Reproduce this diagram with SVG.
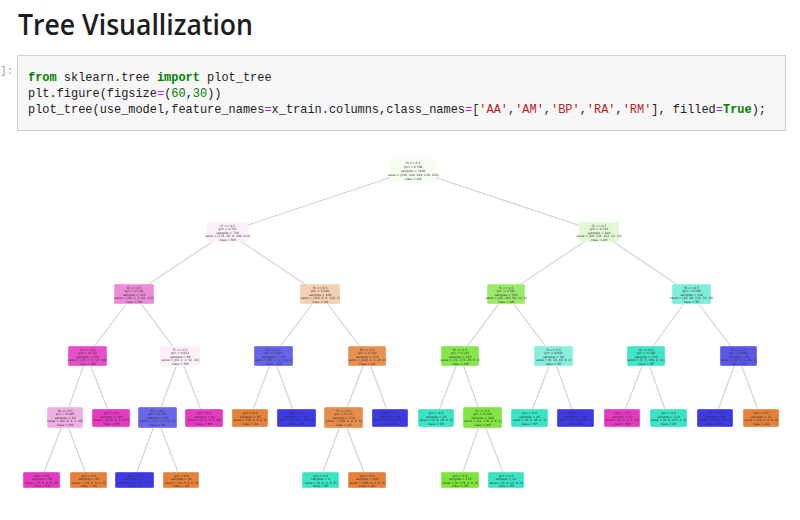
<svg xmlns="http://www.w3.org/2000/svg" width="800" height="520" viewBox="0 0 800 520">
<style>
.title{font-family:"Open Sans","Liberation Sans",sans-serif;font-weight:600;font-size:29px;fill:#1d1d1d}
.code{font-family:"Liberation Mono","DejaVu Sans Mono",monospace;font-size:11.95px;fill:#222}
.k{fill:#008000;font-weight:bold}
.o{fill:#aa22ff}
.n{fill:#008000}
.s{fill:#ba2121}
.prompt{font-family:"Liberation Mono",monospace;font-size:11px;fill:#9a9a9a}
.e{stroke:#d2d2d2;stroke-width:1.1;fill:none}
.nd rect{stroke:#ffffff;stroke-opacity:0.45;stroke-width:0.8}
.nd text{font-family:"DejaVu Sans","Liberation Sans",sans-serif;font-size:3px;fill:#333;text-anchor:middle}
</style>
<rect width="800" height="520" fill="#ffffff"/>
<text class="title" x="18" y="35" textLength="235" lengthAdjust="spacingAndGlyphs">Tree Visuallization</text>
<text class="prompt" x="0" y="74">]:</text>
<rect x="17.5" y="55.5" width="768" height="75" fill="#f7f7f7" stroke="#cfcfcf" stroke-width="1"/>
<text class="code" x="28" y="81"><tspan class="k">from</tspan> sklearn.tree <tspan class="k">import</tspan> plot_tree</text>
<text class="code" x="28" y="97">plt.figure(figsize<tspan class="o">=</tspan>(<tspan class="n">60</tspan>,<tspan class="n">30</tspan>))</text>
<text class="code" x="28" y="113">plot_tree(use_model,feature_names<tspan class="o">=</tspan>x_train.columns,class_names<tspan class="o">=</tspan>[<tspan class="s">'AA'</tspan>,<tspan class="s">'AM'</tspan>,<tspan class="s">'BP'</tspan>,<tspan class="s">'RA'</tspan>,<tspan class="s">'RM'</tspan>], filled<tspan class="o">=</tspan><tspan class="k">True</tspan>);</text>

<g id="connectors">
<line class="e" x1="413" y1="170" x2="227" y2="232"/>
<line class="e" x1="413" y1="170" x2="599" y2="232"/>
<line class="e" x1="227" y1="232" x2="134" y2="294"/>
<line class="e" x1="227" y1="232" x2="320" y2="294"/>
<line class="e" x1="599" y1="232" x2="506" y2="294"/>
<line class="e" x1="599" y1="232" x2="691" y2="294"/>
<line class="e" x1="134" y1="294" x2="87" y2="356"/>
<line class="e" x1="134" y1="294" x2="180" y2="356"/>
<line class="e" x1="320" y1="294" x2="273" y2="356"/>
<line class="e" x1="320" y1="294" x2="367" y2="356"/>
<line class="e" x1="506" y1="294" x2="460" y2="356"/>
<line class="e" x1="506" y1="294" x2="553" y2="356"/>
<line class="e" x1="691" y1="294" x2="646" y2="356"/>
<line class="e" x1="691" y1="294" x2="738" y2="356"/>
<line class="e" x1="87" y1="356" x2="65" y2="418"/>
<line class="e" x1="87" y1="356" x2="111" y2="418"/>
<line class="e" x1="180" y1="356" x2="157" y2="418"/>
<line class="e" x1="180" y1="356" x2="204" y2="418"/>
<line class="e" x1="273" y1="356" x2="250" y2="418"/>
<line class="e" x1="273" y1="356" x2="296" y2="418"/>
<line class="e" x1="367" y1="356" x2="343" y2="418"/>
<line class="e" x1="367" y1="356" x2="390" y2="418"/>
<line class="e" x1="460" y1="356" x2="436" y2="418"/>
<line class="e" x1="460" y1="356" x2="482" y2="418"/>
<line class="e" x1="553" y1="356" x2="529" y2="418"/>
<line class="e" x1="553" y1="356" x2="575" y2="418"/>
<line class="e" x1="646" y1="356" x2="622" y2="418"/>
<line class="e" x1="646" y1="356" x2="668" y2="418"/>
<line class="e" x1="738" y1="356" x2="715" y2="418"/>
<line class="e" x1="738" y1="356" x2="761" y2="418"/>
<line class="e" x1="65" y1="418" x2="41" y2="480"/>
<line class="e" x1="65" y1="418" x2="88" y2="480"/>
<line class="e" x1="157" y1="418" x2="134" y2="480"/>
<line class="e" x1="157" y1="418" x2="181" y2="480"/>
<line class="e" x1="343" y1="418" x2="320" y2="480"/>
<line class="e" x1="343" y1="418" x2="367" y2="480"/>
<line class="e" x1="482" y1="418" x2="460" y2="480"/>
<line class="e" x1="482" y1="418" x2="506" y2="480"/>
</g>

<g id="n0" class="nd"><rect x="390" y="159" width="46" height="23" rx="1.5" fill="#f4fdee"/><text x="413" y="164">f3 &lt;= 0.5</text><text x="413" y="168">gini = 0.799</text><text x="413" y="172">samples = 1200</text><text x="413" y="176">value = [236, 248, 240, 238, 238]</text><text x="413" y="180">class = AM</text></g>

<g id="n1" class="nd"><rect x="207" y="222" width="41" height="20" rx="1.5" fill="#fdf0fa"/><text x="227.5" y="226.5">f1 &lt;= 0.5</text><text x="227.5" y="230">gini = 0.751</text><text x="227.5" y="233.5">samples = 720</text><text x="227.5" y="237">value = [170, 10, 8, 196, 214]</text><text x="227.5" y="240.5">class = RM</text></g>
<g id="n2" class="nd"><rect x="579" y="222" width="40" height="20" rx="1.5" fill="#e3f9d6"/><text x="599" y="226.5">f2 &lt;= 0.5</text><text x="599" y="230">gini = 0.712</text><text x="599" y="233.5">samples = 480</text><text x="599" y="237">value = [66, 238, 232, 42, 24]</text><text x="599" y="240.5">class = AM</text></g>

<g id="n3" class="nd"><rect x="114" y="284" width="40" height="20" rx="1.5" fill="#ec8bd8"/><text x="134" y="288.5">f4 &lt;= 0.5</text><text x="134" y="292">gini = 0.548</text><text x="134" y="295.5">samples = 320</text><text x="134" y="299">value = [40, 4, 2, 62, 212]</text><text x="134" y="302.5">class = RM</text></g>
<g id="n4" class="nd"><rect x="300" y="284" width="40" height="20" rx="1.5" fill="#f6d0b3"/><text x="320" y="288.5">f0 &lt;= 0.5</text><text x="320" y="292">gini = 0.582</text><text x="320" y="295.5">samples = 400</text><text x="320" y="299">value = [130, 6, 6, 134, 2]</text><text x="320" y="302.5">class = AA</text></g>
<g id="n5" class="nd"><rect x="487" y="284" width="38" height="20" rx="1.5" fill="#9de96a"/><text x="506" y="288.5">f5 &lt;= 0.5</text><text x="506" y="292">gini = 0.561</text><text x="506" y="295.5">samples = 300</text><text x="506" y="299">value = [20, 200, 60, 12, 8]</text><text x="506" y="302.5">class = AM</text></g>
<g id="n6" class="nd"><rect x="672" y="284" width="39" height="20" rx="1.5" fill="#7eefd9"/><text x="691.5" y="288.5">f6 &lt;= 0.5</text><text x="691.5" y="292">gini = 0.598</text><text x="691.5" y="295.5">samples = 180</text><text x="691.5" y="299">value = [46, 38, 172, 30, 16]</text><text x="691.5" y="302.5">class = BP</text></g>

<g id="n7" class="nd"><rect x="68" y="346" width="39" height="20" rx="1.5" fill="#e64fc8"/><text x="87.5" y="350.5">f2 &lt;= 0.5</text><text x="87.5" y="354">gini = 0.372</text><text x="87.5" y="357.5">samples = 230</text><text x="87.5" y="361">value = [30, 2, 0, 10, 188]</text><text x="87.5" y="364.5">class = RM</text></g>
<g id="n8" class="nd"><rect x="160" y="346" width="40" height="20" rx="1.5" fill="#fcf0f9"/><text x="180" y="350.5">f5 &lt;= 0.5</text><text x="180" y="354">gini = 0.612</text><text x="180" y="357.5">samples = 90</text><text x="180" y="361">value = [10, 2, 2, 52, 24]</text><text x="180" y="364.5">class = RM</text></g>
<g id="n9" class="nd"><rect x="254" y="346" width="39" height="20" rx="1.5" fill="#6563ea"/><text x="273.5" y="350.5">f3 &lt;= 1.5</text><text x="273.5" y="354">gini = 0.421</text><text x="273.5" y="357.5">samples = 170</text><text x="273.5" y="361">value = [30, 2, 2, 134, 2]</text><text x="273.5" y="364.5">class = RA</text></g>
<g id="n10" class="nd"><rect x="348" y="346" width="38" height="20" rx="1.5" fill="#ea9152"/><text x="367" y="350.5">f6 &lt;= 0.5</text><text x="367" y="354">gini = 0.330</text><text x="367" y="357.5">samples = 230</text><text x="367" y="361">value = [100, 4, 4, 20, 0]</text><text x="367" y="364.5">class = AA</text></g>
<g id="n11" class="nd"><rect x="441" y="346" width="38" height="20" rx="1.5" fill="#86e74c"/><text x="460" y="350.5">f0 &lt;= 0.5</text><text x="460" y="354">gini = 0.342</text><text x="460" y="357.5">samples = 220</text><text x="460" y="361">value = [14, 176, 20, 6, 4]</text><text x="460" y="364.5">class = AM</text></g>
<g id="n12" class="nd"><rect x="534" y="346" width="39" height="20" rx="1.5" fill="#88efdc"/><text x="553.5" y="350.5">f1 &lt;= 0.5</text><text x="553.5" y="354">gini = 0.602</text><text x="553.5" y="357.5">samples = 80</text><text x="553.5" y="361">value = [6, 24, 40, 6, 4]</text><text x="553.5" y="364.5">class = BP</text></g>
<g id="n13" class="nd"><rect x="627" y="346" width="38" height="20" rx="1.5" fill="#40e6c6"/><text x="646" y="350.5">f4 &lt;= 0.5</text><text x="646" y="354">gini = 0.298</text><text x="646" y="357.5">samples = 130</text><text x="646" y="361">value = [4, 6, 150, 4, 12]</text><text x="646" y="364.5">class = BP</text></g>
<g id="n14" class="nd"><rect x="720" y="346" width="37" height="20" rx="1.5" fill="#5a57e9"/><text x="738.5" y="350.5">f2 &lt;= 1.5</text><text x="738.5" y="354">gini = 0.402</text><text x="738.5" y="357.5">samples = 50</text><text x="738.5" y="361">value = [12, 2, 2, 26, 4]</text><text x="738.5" y="364.5">class = RA</text></g>

<g id="n15" class="nd"><rect x="47" y="407" width="36" height="21" rx="1.5" fill="#f0afe3"/><text x="65" y="411.5">f0 &lt;= 0.5</text><text x="65" y="415">gini = 0.495</text><text x="65" y="418.5">samples = 40</text><text x="65" y="422">value = [20, 0, 0, 2, 26]</text><text x="65" y="425.5">class = RM</text></g>
<g id="n16" class="nd"><rect x="92" y="409" width="38" height="18" rx="1.5" fill="#e539c0"/><text x="111" y="414">gini = 0.0</text><text x="111" y="417.5">samples = 190</text><text x="111" y="421">value = [0, 0, 0, 0, 162]</text><text x="111" y="424.5">class = RM</text></g>
<g id="n17" class="nd"><rect x="138" y="407" width="39" height="21" rx="1.5" fill="#6866ea"/><text x="157.5" y="411.5">f6 &lt;= 0.5</text><text x="157.5" y="415">gini = 0.395</text><text x="157.5" y="418.5">samples = 70</text><text x="157.5" y="422">value = [10, 2, 2, 52, 4]</text><text x="157.5" y="425.5">class = RA</text></g>
<g id="n18" class="nd"><rect x="185" y="409" width="38" height="18" rx="1.5" fill="#e539c0"/><text x="204" y="414">gini = 0.0</text><text x="204" y="417.5">samples = 20</text><text x="204" y="421">value = [0, 0, 0, 0, 20]</text><text x="204" y="424.5">class = RM</text></g>
<g id="n19" class="nd"><rect x="232" y="409" width="36" height="18" rx="1.5" fill="#e58139"/><text x="250" y="414">gini = 0.0</text><text x="250" y="417.5">samples = 30</text><text x="250" y="421">value = [30, 0, 0, 0, 0]</text><text x="250" y="424.5">class = AA</text></g>
<g id="n20" class="nd"><rect x="277" y="409" width="39" height="18" rx="1.5" fill="#3c39e5"/><text x="296.5" y="414">gini = 0.0</text><text x="296.5" y="417.5">samples = 140</text><text x="296.5" y="421">value = [0, 0, 0, 134, 0]</text><text x="296.5" y="424.5">class = RA</text></g>
<g id="n21" class="nd"><rect x="324" y="407" width="39" height="21" rx="1.5" fill="#e78d4b"/><text x="343.5" y="411.5">f5 &lt;= 0.5</text><text x="343.5" y="415">gini = 0.215</text><text x="343.5" y="418.5">samples = 110</text><text x="343.5" y="422">value = [100, 4, 4, 0, 0]</text><text x="343.5" y="425.5">class = AA</text></g>
<g id="n22" class="nd"><rect x="372" y="409" width="36" height="18" rx="1.5" fill="#3c39e5"/><text x="390" y="414">gini = 0.0</text><text x="390" y="417.5">samples = 20</text><text x="390" y="421">value = [0, 0, 0, 20, 0]</text><text x="390" y="424.5">class = RA</text></g>
<g id="n23" class="nd"><rect x="418" y="409" width="36" height="18" rx="1.5" fill="#39e5c5"/><text x="436" y="414">gini = 0.0</text><text x="436" y="417.5">samples = 20</text><text x="436" y="421">value = [0, 0, 20, 0, 0]</text><text x="436" y="424.5">class = BP</text></g>
<g id="n24" class="nd"><rect x="463" y="407" width="39" height="21" rx="1.5" fill="#82e642"/><text x="482.5" y="411.5">f3 &lt;= 0.5</text><text x="482.5" y="415">gini = 0.204</text><text x="482.5" y="418.5">samples = 200</text><text x="482.5" y="422">value = [14, 176, 0, 6, 4]</text><text x="482.5" y="425.5">class = AM</text></g>
<g id="n25" class="nd"><rect x="511" y="409" width="37" height="18" rx="1.5" fill="#39e5c5"/><text x="529.5" y="414">gini = 0.0</text><text x="529.5" y="417.5">samples = 40</text><text x="529.5" y="421">value = [0, 0, 40, 0, 0]</text><text x="529.5" y="424.5">class = BP</text></g>
<g id="n26" class="nd"><rect x="557" y="409" width="37" height="18" rx="1.5" fill="#3c39e5"/><text x="575.5" y="414">gini = 0.0</text><text x="575.5" y="417.5">samples = 40</text><text x="575.5" y="421">value = [0, 0, 0, 40, 0]</text><text x="575.5" y="424.5">class = RA</text></g>
<g id="n27" class="nd"><rect x="604" y="409" width="36" height="18" rx="1.5" fill="#e539c0"/><text x="622" y="414">gini = 0.0</text><text x="622" y="417.5">samples = 12</text><text x="622" y="421">value = [0, 0, 0, 0, 12]</text><text x="622" y="424.5">class = RM</text></g>
<g id="n28" class="nd"><rect x="650" y="409" width="37" height="18" rx="1.5" fill="#39e5c5"/><text x="668.5" y="414">gini = 0.0</text><text x="668.5" y="417.5">samples = 118</text><text x="668.5" y="421">value = [0, 0, 150, 0, 0]</text><text x="668.5" y="424.5">class = BP</text></g>
<g id="n29" class="nd"><rect x="697" y="409" width="36" height="18" rx="1.5" fill="#3c39e5"/><text x="715" y="414">gini = 0.0</text><text x="715" y="417.5">samples = 38</text><text x="715" y="421">value = [0, 0, 0, 26, 0]</text><text x="715" y="424.5">class = RA</text></g>
<g id="n30" class="nd"><rect x="743" y="409" width="36" height="18" rx="1.5" fill="#e58139"/><text x="761" y="414">gini = 0.0</text><text x="761" y="417.5">samples = 12</text><text x="761" y="421">value = [12, 0, 0, 0, 0]</text><text x="761" y="424.5">class = AA</text></g>

<g id="n31" class="nd"><rect x="23" y="472" width="37" height="16" rx="1.5" fill="#e539c0"/><text x="41.5" y="476.5">gini = 0.0</text><text x="41.5" y="480">samples = 26</text><text x="41.5" y="483.5">value = [0, 0, 0, 0, 26]</text><text x="41.5" y="487">class = RM</text></g>
<g id="n32" class="nd"><rect x="70" y="472" width="37" height="16" rx="1.5" fill="#e58139"/><text x="88.5" y="476.5">gini = 0.0</text><text x="88.5" y="480">samples = 20</text><text x="88.5" y="483.5">value = [20, 0, 0, 0, 0]</text><text x="88.5" y="487">class = AA</text></g>
<g id="n33" class="nd"><rect x="115" y="472" width="39" height="16" rx="1.5" fill="#3c39e5"/><text x="134.5" y="476.5">gini = 0.0</text><text x="134.5" y="480">samples = 52</text><text x="134.5" y="483.5">value = [0, 0, 0, 52, 0]</text><text x="134.5" y="487">class = RA</text></g>
<g id="n34" class="nd"><rect x="163" y="472" width="36" height="16" rx="1.5" fill="#e58139"/><text x="181" y="476.5">gini = 0.0</text><text x="181" y="480">samples = 10</text><text x="181" y="483.5">value = [10, 0, 0, 0, 0]</text><text x="181" y="487">class = AA</text></g>
<g id="n35" class="nd"><rect x="302" y="472" width="37" height="16" rx="1.5" fill="#39e5c5"/><text x="320.5" y="476.5">gini = 0.0</text><text x="320.5" y="480">samples = 4</text><text x="320.5" y="483.5">value = [0, 0, 4, 0, 0]</text><text x="320.5" y="487">class = BP</text></g>
<g id="n36" class="nd"><rect x="348" y="472" width="38" height="16" rx="1.5" fill="#e58139"/><text x="367" y="476.5">gini = 0.0</text><text x="367" y="480">samples = 100</text><text x="367" y="483.5">value = [100, 0, 0, 0, 0]</text><text x="367" y="487">class = AA</text></g>
<g id="n37" class="nd"><rect x="441" y="472" width="38" height="16" rx="1.5" fill="#7be539"/><text x="460" y="476.5">gini = 0.0</text><text x="460" y="480">samples = 176</text><text x="460" y="483.5">value = [0, 176, 0, 0, 0]</text><text x="460" y="487">class = AM</text></g>
<g id="n38" class="nd"><rect x="488" y="472" width="36" height="16" rx="1.5" fill="#39e5c5"/><text x="506" y="476.5">gini = 0.0</text><text x="506" y="480">samples = 24</text><text x="506" y="483.5">value = [0, 0, 24, 0, 0]</text><text x="506" y="487">class = BP</text></g>
</svg>
